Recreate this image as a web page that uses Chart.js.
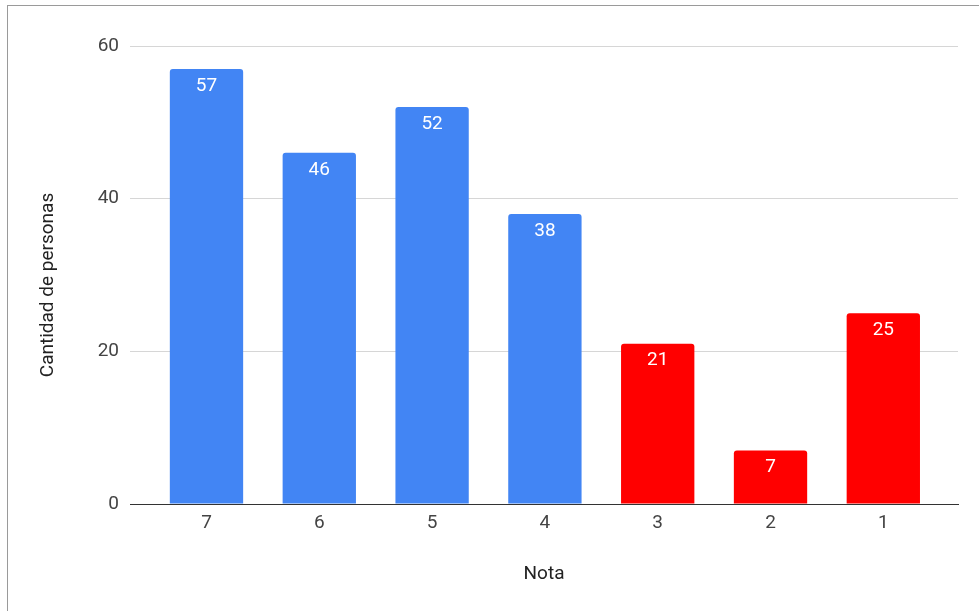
<!DOCTYPE html>
<html>
<head>
<meta charset="utf-8">
<script src="https://cdn.jsdelivr.net/npm/chart.js@4"></script>
<style>
  html, body { margin: 0; padding: 0; background: #fff; }
  #wrap { position: relative; width: 979px; height: 611px; }
  #frame {
    position: absolute; left: 7px; top: 5px; right: 0; bottom: 0;
    border-top: 1px solid #9a9a9a; border-left: 1px solid #9a9a9a;
    pointer-events: none;
  }
</style>
</head>
<body>
<div id="wrap">
  <canvas id="notasChart" width="979" height="611"></canvas>
  <div id="frame"></div>
</div>
<script>
const notas = ['7', '6', '5', '4', '3', '2', '1'];
const personas = [57, 46, 52, 38, 21, 7, 25];
const yTicks = [0, 20, 40, 60];

const AZUL = '#4285F4';
const ROJO = '#FF0000';
const FONT = "Roboto, 'Noto Sans', sans-serif";

// etiquetas blancas con el valor dentro de cada barra
const valueLabels = {
    id: 'valueLabels',
    afterDatasetsDraw(chart) {
        const { ctx } = chart;
        const meta = chart.getDatasetMeta(0);
        ctx.save();
        ctx.fillStyle = '#fff';
        ctx.font = `19px ${FONT}`;
        ctx.textAlign = 'center';
        ctx.textBaseline = 'middle';
        meta.data.forEach((bar, i) => {
            ctx.fillText(String(personas[i]), bar.x, bar.y + 17);
        });
        ctx.restore();
    }
};

// titulos de los ejes
const axisTitles = {
    id: 'axisTitles',
    afterDraw(chart) {
        const { ctx, chartArea } = chart;
        ctx.save();
        ctx.fillStyle = '#222';
        ctx.font = `19px ${FONT}`;
        ctx.textAlign = 'center';
        ctx.textBaseline = 'middle';
        ctx.fillText('Nota', (chartArea.left + chartArea.right) / 2, 574);
        ctx.translate(48, 285);
        ctx.rotate(-Math.PI / 2);
        ctx.fillText('Cantidad de personas', 0, 0);
        ctx.restore();
    }
};

const ctx = document.getElementById('notasChart').getContext('2d');
new Chart(ctx, {
    type: 'bar',
    data: {
        datasets: [{
            data: personas.map((v, i) => ({ x: i, y: v })),
            backgroundColor: c => Number(notas[c.dataIndex]) < 4 ? ROJO : AZUL,
            borderRadius: { topLeft: 3, topRight: 3, bottomLeft: 0, bottomRight: 0 },
            borderSkipped: false,
            categoryPercentage: 1,
            barPercentage: 0.65
        }]
    },
    options: {
        responsive: false,
        animation: false,
        events: [],
        layout: { padding: { top: 46, right: 21, bottom: 0, left: 0 } },
        plugins: { legend: { display: false }, tooltip: { enabled: false } },
        scales: {
            x: {
                type: 'linear',
                offset: false,
                min: -0.678,
                max: notas.length - 1 + 0.662,
                afterFit: s => { s.height = 107; },
                grid: { display: false, drawTicks: false },
                border: { display: true, color: '#333', width: 1 },
                ticks: {
                    stepSize: 1,
                    includeBounds: false,
                    padding: 8,
                    color: '#444',
                    font: { family: FONT, size: 19 },
                    callback: v => notas[v] ?? ''
                }
            },
            y: {
                min: 0,
                max: 60,
                afterFit: s => { s.width = 130; },
                afterBuildTicks: s => { s.ticks = yTicks.map(v => ({ value: v })); },
                grid: {
                    drawTicks: false,
                    color: c => c.tick && c.tick.value === 0 ? '#333' : '#d6d6d6'
                },
                border: { display: false },
                ticks: {
                    padding: 11,
                    color: '#444',
                    font: { family: FONT, size: 19 }
                }
            }
        }
    },
    plugins: [valueLabels, axisTitles]
});
</script>
</body>
</html>
